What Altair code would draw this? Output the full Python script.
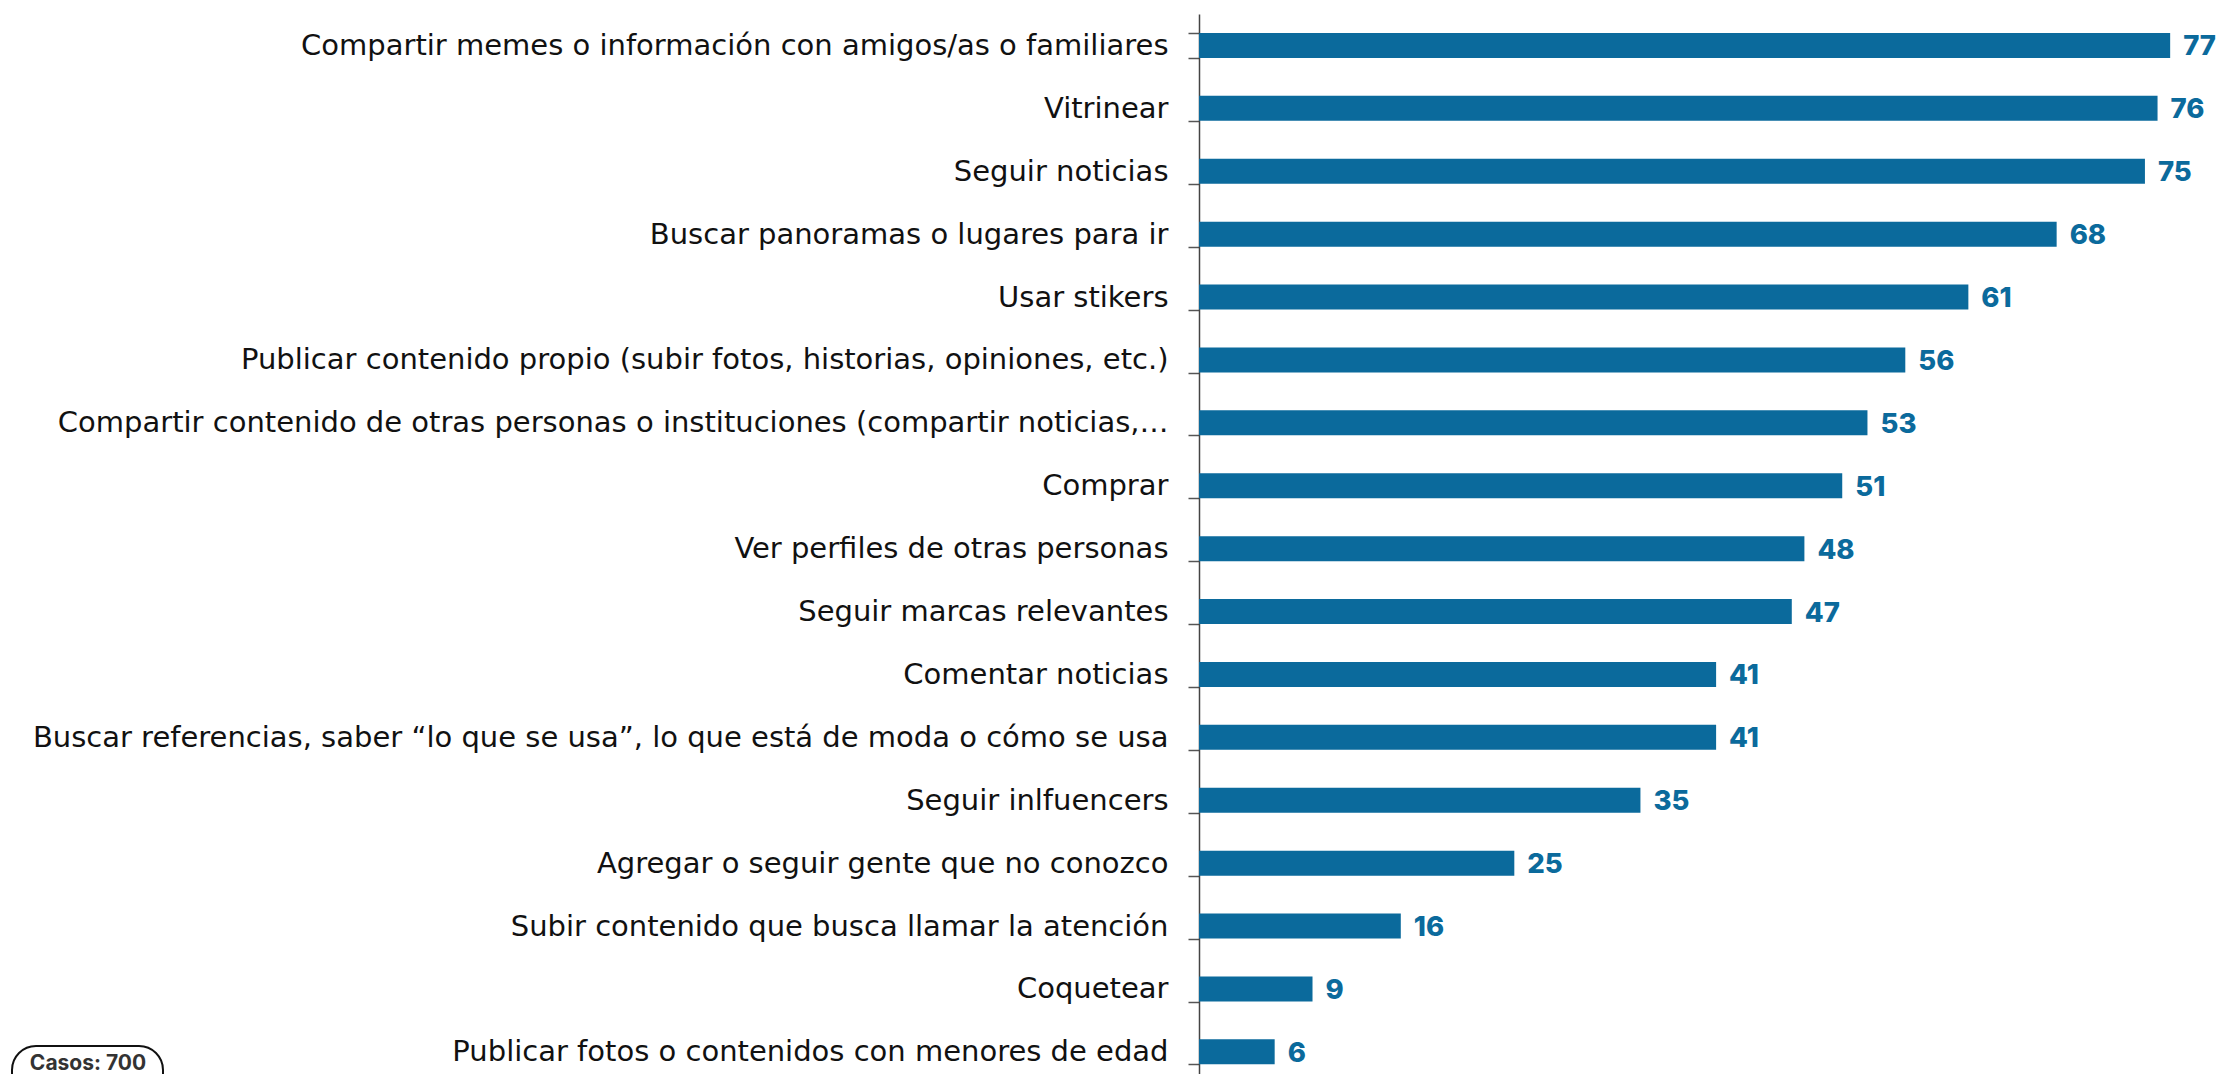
import altair as alt
import pandas as pd

categories = [
    "Compartir memes o información con amigos/as o familiares",
    "Vitrinear",
    "Seguir noticias",
    "Buscar panoramas o lugares para ir ",
    "Usar stikers",
    "Publicar contenido propio (subir fotos, historias, opiniones, etc.)",
    "Compartir contenido de otras personas o instituciones (compartir noticias,…",
    "Comprar",
    "Ver perfiles de otras personas ",
    "Seguir marcas relevantes",
    "Comentar noticias",
    "Buscar referencias, saber “lo que se usa”, lo que está de moda o cómo se usa",
    "Seguir inlfuencers",
    "Agregar o seguir gente que no conozco",
    "Subir contenido que busca llamar la atención",
    "Coquetear",
    "Publicar fotos o contenidos con menores de edad",
]
values = [77, 76, 75, 68, 61, 56, 53, 51, 48, 47, 41, 41, 35, 25, 16, 9, 6]
note_text = ["Casos: 700"]

df = pd.DataFrame({"cat": categories, "val": values})

BLUE = "#0B6A9C"
STEP = 62.9
N = len(categories)

y_enc = alt.Y(
    "cat:N",
    sort=categories,
    scale=alt.Scale(range=[0, STEP * N], paddingInner=0.6, paddingOuter=0.3),
    axis=alt.Axis(
        title=None,
        labelFont="DejaVu Sans",
        labelFontSize=29,
        labelColor="#111111",
        labelLimit=1400,
        labelPadding=20,
        tickSize=11,
        tickColor="#555555",
        tickWidth=1.5,
        tickBand="extent",
        domainColor="#444444",
        domainWidth=1.5,
        grid=False,
    ),
)
x_enc = alt.X("val:Q", scale=alt.Scale(domain=[0, 80]), axis=None)

base = alt.Chart(df)
bars = base.mark_bar(color=BLUE, size=25).encode(x=x_enc, y=y_enc)
labels = base.mark_text(
    align="left", baseline="middle", dx=13, dy=2,
    font="Inter", fontSize=27.5, fontWeight=800, color=BLUE,
).encode(x=x_enc, y=y_enc, text="val:Q")

note_df = pd.DataFrame({"t": note_text})
box = alt.Chart(note_df).mark_rect(
    fill="white", stroke="#111111", strokeWidth=2, cornerRadius=24
).encode(
    x=alt.value(12 - 1199), x2=alt.value(163 - 1199),
    y=alt.value(1046 - 14), y2=alt.value(1120 - 14),
)
note = alt.Chart(note_df).mark_text(
    font="Inter", fontSize=21, fontWeight=700, color="#333333",
    align="center", baseline="middle",
).encode(
    x=alt.value(88 - 1199), y=alt.value(1064 - 14), text="t:N"
)

chart = alt.layer(bars, labels, box, note).properties(
    width=1009,
    height=1060,
    background="white",
    autosize=alt.AutoSizeParams(type="none"),
    padding={"left": 1191, "top": 6, "right": 9, "bottom": 0},
).configure_view(strokeWidth=0, stroke="transparent")

chart.save("out.html", embed_options={"renderer": "svg", "actions": False})
